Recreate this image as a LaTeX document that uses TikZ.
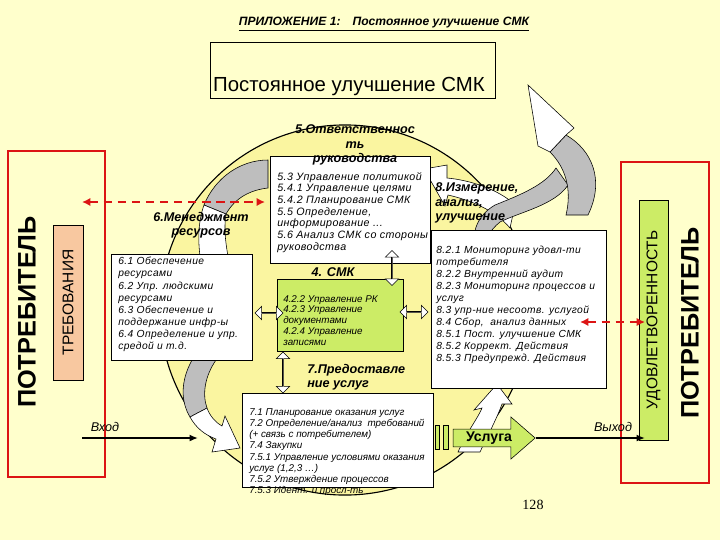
\documentclass[tikz,border=0pt]{standalone}
\usepackage{fontspec}
\setmainfont{Liberation Sans}
\newfontfamily\pagefont{Liberation Serif}
\newfontfamily\spacedfont[LetterSpace=4]{Liberation Sans}
\usetikzlibrary{positioning,shapes.arrows,arrows.meta}

\definecolor{paper}{RGB}{255,255,204}
\definecolor{disc}{RGB}{250,245,160}
\definecolor{leaf}{RGB}{204,236,102}
\definecolor{peach}{RGB}{248,200,160}
\definecolor{alarm}{RGB}{220,20,20}
\definecolor{twist}{RGB}{190,190,190}

\newcommand{\itemfont}{\fontsize{7}{8.4}\selectfont\itshape}
\newcommand{\headfont}{\fontsize{9}{10.3}\selectfont\bfseries\itshape}

\tikzset{
    sheet/.style={draw, thin, fill=white, inner sep=0pt},
    items/.style={font=\itemfont, align=left, anchor=north west, inner sep=0pt},
    head/.style={font=\headfont, inner sep=0pt},
    custbox/.style={draw=alarm, line width=1.4pt, inner sep=0pt},
    tag/.style={draw, thin, inner sep=0pt, rotate=90},
    twin/.style={double arrow, draw, thin, fill=white, inner sep=0pt, minimum width=0.33cm, double arrow head extend=0.08cm},
    reddash/.style={alarm, line width=1.6pt, dash pattern=on 6pt off 4pt, {Latex[length=6pt,width=6pt]}-{Latex[length=6pt,width=6pt]}},
    flow/.style={line width=1.4pt, -{Latex[length=6pt,width=5pt]}},
    band/.style={draw, thin, fill=twist},
    bandhead/.style={draw, thin, fill=white},
}

\begin{document}
\begin{tikzpicture}[x=0.025cm, y=-0.025cm]
    \fill[paper] (0,0) rectangle (720,540);
    \useasboundingbox (0,0) rectangle (720,540);

    \node[font=\fontsize{8.6}{10}\selectfont\bfseries\itshape] (appx) at (384,24) {\underline{ПРИЛОЖЕНИЕ 1:\quad Постоянное улучшение СМК}};
    \node[draw, thin, minimum width=7.125cm, minimum height=1.4cm] (improve) at (352.5,70) {};
    \node[font=\fontsize{14.5}{18}\selectfont, anchor=base] (improvetext) at (349,91) {Постоянное улучшение СМК};

    \node[circle, draw, line width=0.8pt, fill=disc, minimum size=9.25cm] (wheel) at (345,310) {};

    % twisted arrows round the wheel
    \draw[band] (268,160) .. controls (240,160) and (215,178) .. (204,205) -- (226,214) .. controls (235,198) and (250,190) .. (268,188) -- cycle;
    \draw[bandhead] (204,205) .. controls (198,222) and (198,240) .. (200,256) -- (228,256) .. controls (225,240) and (224,226) .. (226,214) -- cycle;
    \draw[band] (192,360) .. controls (180,382) and (181,402) .. (190,417) -- (207,408) .. controls (202,394) and (205,376) .. (216,360) -- cycle;
    \draw[bandhead] (190,417) .. controls (196,428) and (205,435) .. (216,439) -- (212,452) -- (240,448) -- (225,416) -- (222,426) .. controls (215,422) and (210,416) .. (207,408) -- cycle;
    \draw[bandhead] (458,452) .. controls (468,430) and (478,418) .. (482,408) -- (474,410) -- (497,384) -- (512,404) -- (502,404) .. controls (497,418) and (488,435) .. (480,452) -- cycle;
    \draw[bandhead] (447,165) -- (424,169) -- (445,206) -- (448,195) .. controls (470,200) and (495,210) .. (510,228) -- (515,205) .. controls (500,190) and (470,180) .. (447,178) -- cycle;
    \draw[band] (476,253) .. controls (470,232) and (478,215) .. (495,205) .. controls (520,195) and (545,185) .. (556,168) -- (568,185) .. controls (555,205) and (520,212) .. (500,222) .. controls (490,230) and (485,240) .. (476,253) -- cycle;
    \draw[band] (588,215) .. controls (605,180) and (592,150) .. (566,135) -- (550,152) .. controls (566,168) and (572,190) .. (566,215) -- cycle;
    \draw[bandhead] (566,135) -- (574,128) -- (528,85) -- (538,146) -- (550,152) -- cycle;

    \node[sheet, minimum width=4cm, minimum height=2.675cm] (mgmt) at (350,209.5) {};
    \node[sheet, minimum width=3.525cm, minimum height=2.65cm] (res) at (181.5,307) {};
    \node[sheet, fill=leaf, minimum width=3.15cm, minimum height=1.8cm] (qms) at (340,315) {};
    \node[sheet, minimum width=4.775cm, minimum height=2.35cm] (real) at (337.5,440) {};
    \node[sheet, minimum width=4.375cm, minimum height=3.95cm] (meas) at (518.5,309) {};

    \node[head, align=center] (mgmthead) at (355,145) {5.Ответственнос\\ть\\руководства};
    \node[head, align=center] (reshead) at (201,225) {6.Менеджмент\\ресурсов};
    \node[head] (qmshead) at (333,272) {4. СМК};
    \node[head, align=left, anchor=west] (realhead) at (307,377) {7.Предоставле\\ние услуг};
    \node[head, align=left, anchor=west] (meashead) at (435,203) {8.Измерение,\\анализ,\\улучшение};

    \node[items, font=\fontsize{7.6}{8.3}\selectfont\spacedfont\itshape] (mgmtlist) at (277,172) {5.3 Управление политикой\\5.4.1 Управление целями\\5.4.2 Планирование СМК\\5.5 Определение,\\информирование ...\\5.6 Анализ СМК со стороны\\руководства};
    \node[items, font=\fontsize{7.3}{8.6}\selectfont\spacedfont\itshape] (reslist) at (118,257) {6.1 Обеспечение\\ресурсами\\6.2 Упр. людскими\\ресурсами\\6.3 Обеспечение и\\поддержание инфр-ы\\6.4 Определение и упр.\\средой и т.д.};
    \node[items, font=\fontsize{7}{7.7}\selectfont\itshape] (qmslist) at (283,295) {4.2.2 Управление РК\\4.2.3 Управление\\документами\\4.2.4 Управление\\записями};
    \node[items, font=\fontsize{7}{8}\selectfont\itshape] (reallist) at (249,408) {7.1 Планирование оказания услуг\\7.2 Определение/анализ \ требований\\(+ связь с потребителем)\\7.4 Закупки\\7.5.1 Управление условиями оказания\\услуг (1,2,3 …)\\7.5.2 Утверждение процессов\\7.5.3 Идент. и просл-ть};
    \node[items, font=\fontsize{7.3}{8.5}\selectfont\spacedfont\itshape] (measlist) at (436,246) {8.2.1 Мониторинг удовл-ти\\потребителя\\8.2.2 Внутренний аудит\\8.2.3 Мониторинг процессов и\\услуг\\8.3 упр-ние несоотв. услугой\\8.4 Сбор, \ анализ данных\\8.5.1 Пост. улучшение СМК\\8.5.2 Коррект. Действия\\8.5.3 Предупрежд. Действия};

    \node[twin, rotate=90, minimum height=0.875cm] (mgmtqms) at (392,268) {};
    \node[twin, minimum height=0.7cm] (resqms) at (269,313) {};
    \node[twin, minimum height=0.7cm] (qmsmeas) at (414,312) {};
    \node[twin, rotate=90, minimum height=1.025cm] (qmsreal) at (283,372.5) {};

    \draw[thin, fill=leaf] (435,425) rectangle (439,449);
    \draw[thin, fill=leaf] (443,425) rectangle (448,449);
    \node[single arrow, draw, thin, fill=leaf, minimum width=1.05cm, minimum height=2.05cm, single arrow head extend=0.225cm, single arrow tip angle=82, inner sep=0pt, font=\fontsize{10}{12}\selectfont\bfseries] (service) at (489,438) {Услуга};

    % customers
    \node[custbox, minimum width=2.425cm, minimum height=8.15cm] (custin) at (56.5,314) {};
    \node[font=\fontsize{18}{20}\selectfont\bfseries, rotate=90] (custinname) at (27,312) {ПОТРЕБИТЕЛЬ};
    \node[tag, fill=peach, minimum width=3.875cm, minimum height=0.75cm, font=\fontsize{11}{13}\selectfont] (req) at (68,302.5) {ТРЕБОВАНИЯ};
    \node[custbox, minimum width=2.2cm, minimum height=8.025cm] (custout) at (665,322.5) {};
    \node[font=\fontsize{18}{20}\selectfont\bfseries, rotate=90] (custoutname) at (690,323) {ПОТРЕБИТЕЛЬ};
    \node[tag, fill=leaf, minimum width=6cm, minimum height=0.725cm, font=\fontsize{11}{13}\selectfont] (sat) at (653.5,320) {УДОВЛЕТВОРЕННОСТЬ};

    \coordinate (reqtip) at (82,202);
    \coordinate (mgmtin) at (265,202);
    \draw[reddash] (reqtip) -- (mgmtin);
    \coordinate (measout) at (580,322);
    \coordinate (sattip) at (645,322);
    \draw[reddash] (measout) -- (sattip);

    \coordinate (entry) at (82,438);
    \coordinate (entryend) at (198,438);
    \draw[flow] (entry) -- (entryend);
    \node[font=\fontsize{9}{11}\selectfont\itshape] (entrylabel) at (105,427) {Вход};
    \coordinate (exitend) at (645,438);
    \draw[flow] (service.tip) -- (exitend);
    \node[font=\fontsize{9}{11}\selectfont\itshape] (exitlabel) at (613,427) {Выход};

    \node[font=\fontsize{10}{12}\selectfont\pagefont] (page) at (533,505) {128};
\end{tikzpicture}
\end{document}
